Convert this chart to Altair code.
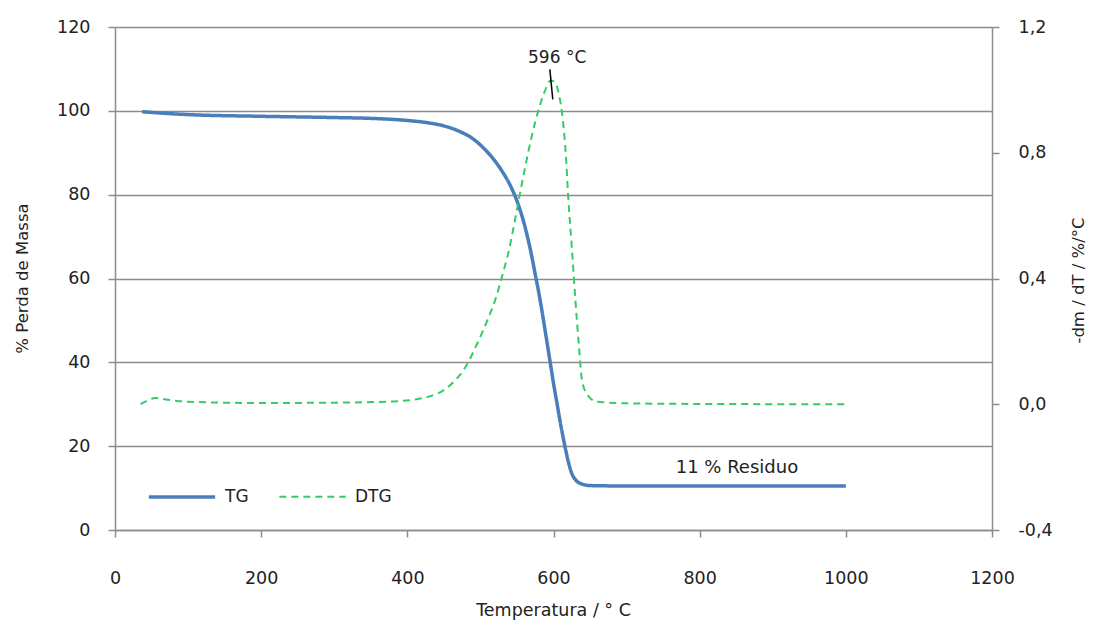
import altair as alt
import pandas as pd

# TG curve (left axis, % mass)
tg_temp = [37, 60, 100, 200, 300, 350, 400, 430, 450, 470, 490, 505, 520, 530, 540, 550,
           560, 570, 575, 580, 590, 595, 600, 605, 610, 615, 620, 625, 630, 640, 650,
           700, 800, 900, 1000]
tg_mass = [99.8, 99.5, 99.1, 98.7, 98.4, 98.2, 97.7, 97.1, 96.4, 95.2, 93.3, 91.0, 88.0,
           85.5, 82.5, 78.5, 73.0, 65.5, 61.0, 56.5, 46.0, 40.5, 35.0, 30.0, 25.0, 20.5,
           16.5, 13.5, 12.0, 10.9, 10.6, 10.5, 10.5, 10.5, 10.5]

# DTG curve (right axis, -dm/dT)
dtg_temp = [35, 45, 55, 70, 100, 200, 300, 380, 410, 430, 450, 465, 480, 495, 510, 520,
            530, 540, 550, 560, 570, 580, 588, 596, 602, 607, 613, 617, 620, 625, 630,
            635, 639, 645, 650, 660, 700, 800, 1000]
dtg_val = [0.0, 0.012, 0.02, 0.015, 0.008, 0.004, 0.005, 0.009, 0.015, 0.025, 0.045, 0.075,
           0.12, 0.19, 0.27, 0.33, 0.41, 0.50, 0.62, 0.74, 0.85, 0.94, 0.995, 1.03, 1.025,
           0.99, 0.90, 0.79, 0.665, 0.50, 0.33, 0.18, 0.076, 0.035, 0.02, 0.008, 0.003,
           0.001, 0.0]

series_names = ["TG", "DTG"]
series_colors = ["#4A7EBB", "#33CC66"]

x_ticks = [0, 200, 400, 600, 800, 1000, 1200]
left_ticks = [0, 20, 40, 60, 80, 100, 120]
right_ticks = [-0.4, 0.0, 0.4, 0.8, 1.2]

peak_label = ["596 °C"]
peak_label_temp = [605]
peak_label_val = [1.10]
peak_line_temp = [595]
peak_line_temp2 = [599]
peak_line_val = [1.065]
peak_line_val2 = [0.97]

res_label = ["11 % Residuo"]
res_temp = [851]
res_val = [14.8]

FONT = "DejaVu Sans"
GRAY = "#8c8c8c"
TXT = "#222222"

tg_df = pd.DataFrame({"T": tg_temp, "v": tg_mass, "series": "TG"})
dtg_df = pd.DataFrame({"T": dtg_temp, "v": dtg_val, "series": "DTG"})

xscale = alt.Scale(domain=[0, 1200], nice=False, zero=False)
xaxis = alt.Axis(values=x_ticks, title="Temperatura / ° C", grid=False, format="d",
                 titleX=438, titleY=80, titleBaseline="middle", titleAlign="center",
                 titleFontSize=17.5, labelPadding=32, tickSize=7, labelFlush=False)

lscale = alt.Scale(domain=[0, 120], nice=False)
rscale = alt.Scale(domain=[-0.4, 1.2], nice=False)

color = alt.Color("series:N", scale=alt.Scale(domain=series_names, range=series_colors),
                  legend=alt.Legend(title=None, orient="none", direction="horizontal",
                                    legendX=32, legendY=435, symbolType="stroke",
                                    symbolSize=4400, labelFontSize=17, labelFont=FONT,
                                    labelColor=TXT, columnPadding=26, labelOffset=8))
dash = alt.StrokeDash("series:N", scale=alt.Scale(domain=series_names, range=[[1, 0], [7, 5]]),
                      legend=alt.Legend(title=None))
swidth = alt.StrokeWidth("series:N", scale=alt.Scale(domain=series_names, range=[3.5, 2.0]),
                         legend=alt.Legend(title=None))

tg_line = alt.Chart(tg_df).mark_line(interpolate="monotone").encode(
    x=alt.X("T:Q", scale=xscale, axis=xaxis),
    y=alt.Y("v:Q", scale=lscale,
            axis=alt.Axis(values=left_ticks, title="% Perda de Massa", grid=True,
                          gridColor=GRAY, gridWidth=1.5, titleX=-93, titleY=251,
                          titleAngle=270, titleBaseline="middle", titleAlign="center",
                          labelPadding=18, tickSize=7, labelFlush=False)),
    color=color, strokeDash=dash, strokeWidth=swidth,
)

res_text = alt.Chart(pd.DataFrame({"T": res_temp, "v": res_val, "t": res_label})).mark_text(
    font=FONT, fontSize=18, color=TXT, align="center", baseline="middle"
).encode(x=alt.X("T:Q", scale=xscale), y=alt.Y("v:Q", scale=lscale), text="t:N")

left = alt.layer(tg_line, res_text)

dtg_line = alt.Chart(dtg_df).mark_line(interpolate="monotone").encode(
    x=alt.X("T:Q", scale=xscale, axis=xaxis),
    y=alt.Y("v:Q", scale=rscale,
            axis=alt.Axis(values=right_ticks, orient="right", title="-dm / dT / %/°C",
                          grid=False, titleX=86, titleY=253, titleAngle=270,
                          titleBaseline="middle", titleAlign="center",
                          labelExpr="replace(replace(format(datum.value, '.1f'), '.', ','), '\u2212', '-')",
                          labelPadding=19, tickSize=7, labelFlush=False)),
    color=color, strokeDash=dash, strokeWidth=swidth,
)

peak_rule = alt.Chart(pd.DataFrame({"T": peak_line_temp, "T2": peak_line_temp2,
                                    "v": peak_line_val, "v2": peak_line_val2})).mark_rule(
    color="#000000", strokeWidth=1.5
).encode(x=alt.X("T:Q", scale=xscale), x2="T2:Q", y=alt.Y("v:Q", scale=rscale), y2="v2:Q")

peak_text = alt.Chart(pd.DataFrame({"T": peak_label_temp, "v": peak_label_val,
                                    "t": peak_label})).mark_text(
    font=FONT, fontSize=17, color=TXT, align="center", baseline="middle"
).encode(x=alt.X("T:Q", scale=xscale), y=alt.Y("v:Q", scale=rscale), text="t:N")

right = alt.layer(dtg_line, peak_rule, peak_text)

chart = alt.layer(left, right).resolve_scale(y="independent").properties(
    width=877, height=503,
    padding={"left": 107, "top": 19, "right": 99, "bottom": 90},
    autosize=alt.AutoSizeParams(type="none"),
    background="white",
).configure_view(stroke=None).configure_axis(
    domainColor=GRAY, domainWidth=1.5, tickColor=GRAY, tickWidth=1.5,
    labelFont=FONT, labelFontSize=17.5, labelColor=TXT,
    titleFont=FONT, titleFontSize=16.5, titleColor=TXT, titleFontWeight="normal",
)

chart.save("out.html", embed_options={"renderer": "svg", "actions": False})
